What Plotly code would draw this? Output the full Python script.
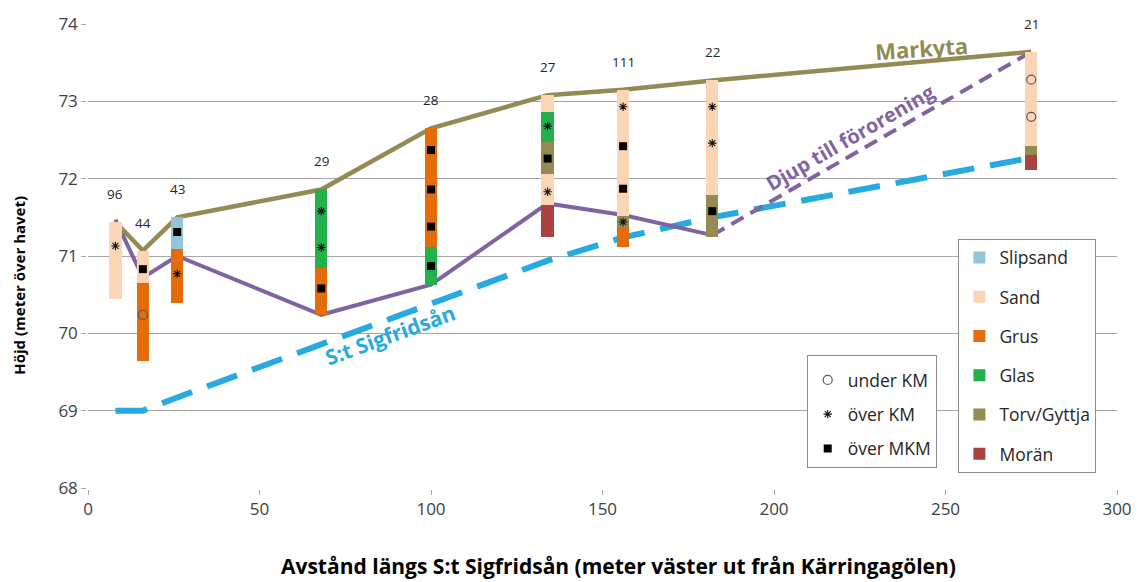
import plotly.graph_objects as go

# Borrpunkter längs ån: avstånd (m) och punktnummer
col_x = [8, 16, 26, 68, 100, 134, 156, 182, 275]
col_ids = ["96", "44", "43", "29", "28", "27", "111", "22", "21"]

# Markytans nivå vid varje borrpunkt (m ö.h.)
markyta = [71.44, 71.07, 71.50, 71.86, 72.65, 73.08, 73.15, 73.27, 73.64]

# Djup till förorening (heldragen del + streckad förlängning)
djup_x = [8, 16, 26, 68, 100, 134, 156, 182]
djup_y = [71.47, 70.72, 71.00, 70.24, 70.63, 71.68, 71.53, 71.27]
djup_ext_x = [182, 275]
djup_ext_y = [71.27, 73.64]

# Vattennivå i S:t Sigfridsån
an_x = [8, 16, 26, 68, 100, 134, 156, 182, 275]
an_y = [69.00, 69.00, 69.17, 69.86, 70.39, 70.94, 71.24, 71.50, 72.27]

# Jordlager per material: (avstånd, överkant, underkant)
layers = {
    "Slipsand": [(26, 71.51, 71.09)],
    "Sand": [(8, 71.44, 70.44), (16, 71.06, 70.65), (134, 73.08, 72.86),
             (134, 72.06, 71.66), (156, 73.15, 71.52), (182, 73.27, 71.79),
             (275, 73.64, 72.42)],
    "Grus": [(16, 70.65, 69.64), (26, 71.09, 70.39), (68, 70.84, 70.24),
             (100, 72.65, 71.12), (156, 71.36, 71.12)],
    "Glas": [(68, 71.86, 70.84), (100, 71.12, 70.62), (134, 72.86, 72.47)],
    "Torv/Gyttja": [(134, 72.47, 72.06), (156, 71.52, 71.36), (182, 71.79, 71.24),
                    (275, 72.42, 72.31)],
    "Morän": [(134, 71.66, 71.25), (275, 72.31, 72.11)],
}
layer_colors = {
    "Slipsand": "#92C4DA",
    "Sand": "#FCD5B5",
    "Grus": "#E46C0A",
    "Glas": "#22B14C",
    "Torv/Gyttja": "#948A54",
    "Morän": "#AB4240",
}

# Provpunkter: under KM, över KM, över MKM
under_km_x = [16, 275, 275]
under_km_y = [70.24, 73.28, 72.80]
over_km_x = [8, 26, 68, 68, 134, 134, 156, 156, 182, 182]
over_km_y = [71.13, 70.77, 71.58, 71.11, 72.68, 71.83, 72.93, 71.44, 72.93, 72.46]
over_mkm_x = [16, 26, 68, 100, 100, 100, 100, 134, 156, 156, 182]
over_mkm_y = [70.83, 71.31, 70.58, 72.37, 71.86, 71.38, 70.87, 72.26, 72.42, 71.87, 71.58]

FONT = "'Open Sans', Lato, sans-serif"
OLIVE = "#948A54"
PURPLE = "#8064A2"
BLUE = "#27AAE1"

fig = go.Figure()

# Linjer (ritas under staplarna)
fig.add_trace(go.Scatter(x=an_x, y=an_y, mode="lines", showlegend=False,
                         line=dict(color=BLUE, width=6, dash="32px,16px"), zorder=0))
fig.add_trace(go.Scatter(x=djup_ext_x, y=djup_ext_y, mode="lines", showlegend=False,
                         line=dict(color=PURPLE, width=4, dash="14px,8px"), zorder=0))
fig.add_trace(go.Scatter(x=djup_x, y=djup_y, mode="lines", showlegend=False,
                         line=dict(color=PURPLE, width=4), zorder=0))
fig.add_trace(go.Scatter(x=col_x, y=markyta, mode="lines", showlegend=False,
                         line=dict(color=OLIVE, width=4.5), zorder=0))

# Jordlagren som staplar
for name, segs in layers.items():
    xs = [s[0] for s in segs]
    tops = [s[1] for s in segs]
    bots = [s[2] for s in segs]
    fig.add_trace(go.Bar(
        x=xs, y=[t - b for t, b in zip(tops, bots)], base=bots, width=3.6,
        name=name, marker=dict(color=layer_colors[name], line=dict(width=0)),
        legend="legend", legendgroup=name, hoverinfo="skip", zorder=1,
    ))

# Provpunkter
fig.add_trace(go.Scatter(x=under_km_x, y=under_km_y, mode="markers", name="under KM",
                         marker=dict(symbol="circle-open", size=9, color="#595959",
                                     line=dict(width=1.2)),
                         legend="legend2", legendgroup="u", zorder=2))
fig.add_trace(go.Scatter(x=over_km_x, y=over_km_y, mode="markers", name="över KM",
                         marker=dict(symbol="asterisk-open", size=7, color="#111111",
                                     line=dict(width=1.1, color="#111111")),
                         legend="legend2", legendgroup="o", zorder=2))
fig.add_trace(go.Scatter(x=over_mkm_x, y=over_mkm_y, mode="markers", name="över MKM",
                         marker=dict(symbol="square", size=8, color="#000000"),
                         legend="legend2", legendgroup="m", zorder=2))

annotations = []
# Punktnummer ovanför varje borrpunkt
col_tops = [max(s[1] for segs in layers.values() for s in segs if s[0] == cx) for cx in col_x]
for x, top, lab in zip(col_x, col_tops, col_ids):
    annotations.append(dict(x=x, y=top, text=lab, showarrow=False, yanchor="bottom",
                            yshift=17, font=dict(size=13.5, color="#262626", family=FONT)))

annotations += [
    dict(x=243, y=73.69, text="<b>Markyta</b>", showarrow=False, textangle=-4,
         xanchor="center", yanchor="middle",
         font=dict(size=22, color=OLIVE, family=FONT)),
    dict(x=222.2, y=72.53, text="<b>Djup till förorening</b>", showarrow=False, textangle=-30,
         xanchor="center", yanchor="middle",
         font=dict(size=20, color=PURPLE, family=FONT)),
    dict(x=88, y=69.98, text="<b>S:t Sigfridsån</b>", showarrow=False, textangle=-20,
         xanchor="center", yanchor="middle",
         font=dict(size=21, color=BLUE, family=FONT)),
    dict(xref="paper", yref="paper", x=(623 - 88) / 1038, y=-(566 - 487.7) / 468.2,
         xanchor="center", yanchor="middle",
         text="<b>Avstånd längs S:t Sigfridsån (meter väster ut från Kärringagölen)</b>",
         showarrow=False, font=dict(size=21, color="#000000", family=FONT)),
    dict(xref="paper", yref="paper", x=-(88 - 19) / 1038, y=1 - (283 - 19.5) / 468.2,
         xanchor="center", yanchor="middle",
         text="<b>Höjd (meter över havet)</b>", textangle=-90, showarrow=False,
         font=dict(size=15, color="#000000", family=FONT)),
]

legend_common = dict(
    bgcolor="#FFFFFF", bordercolor="#8C8C8C", borderwidth=1,
    xanchor="left", yanchor="top", traceorder="grouped",
    font=dict(size=17.5, color="#262626", family=FONT),
)

fig.update_layout(
    width=1144, height=582,
    margin=dict(l=88, r=18, t=20, b=94),
    paper_bgcolor="#FFFFFF", plot_bgcolor="#FFFFFF",
    barmode="overlay", bargap=0,
    font=dict(family=FONT, color="#404040"),
    xaxis=dict(range=[0, 300], tickvals=[0, 50, 100, 150, 200, 250, 300],
               showgrid=False, zeroline=False, showline=True, linecolor="#A6A6A6",
               linewidth=1.5, ticks="outside", ticklen=5, tickcolor="#A6A6A6",
               tickfont=dict(size=17, color="#404040", family=FONT)),
    yaxis=dict(range=[68, 74], tickvals=[68, 69, 70, 71, 72, 73, 74],
               showgrid=True, gridcolor="#A6A6A6", gridwidth=1.2, zeroline=False,
               showline=True, linecolor="#A6A6A6", linewidth=1.5,
               ticks="outside", ticklen=5, tickcolor="#A6A6A6",
               tickfont=dict(size=17, color="#404040", family=FONT)),
    legend=dict(x=(966 - 88) / 1038, y=1 - (236 - 19.5) / 468.2,
                tracegroupgap=13.5, **legend_common),
    legend2=dict(x=(813 - 88) / 1038, y=1 - (353 - 19.5) / 468.2,
                 tracegroupgap=8.5, title=dict(text=" ", font=dict(size=5)),
                 **legend_common),
    annotations=annotations,
    showlegend=True,
)

fig.write_html("out.html")
